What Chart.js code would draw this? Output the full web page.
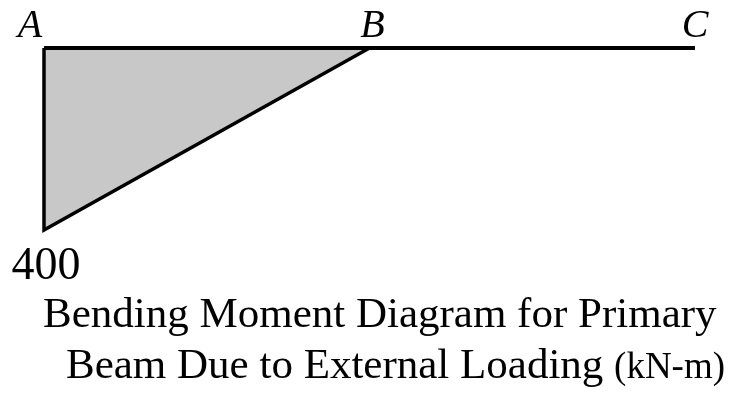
<!DOCTYPE html>
<html>
<head>
<meta charset="utf-8">
<script src="https://cdn.jsdelivr.net/npm/chart.js@4/dist/chart.umd.min.js"></script>
<style>
  html, body { margin: 0; padding: 0; background: #fff; }
  #wrap { width: 739px; height: 393px; position: relative; }
</style>
</head>
<body>
<div id="wrap"><canvas id="bmd"></canvas></div>
<script>
// beam stations (m) and their labels
const stations = [0, 5, 10];
const stationLabels = ['A', 'B', 'C'];

// bending moment diagram (kN-m), hogging drawn downwards
const momentX = [0, 0, 5];
const momentValues = [0, -400, 0];

// beam axis
const beamX = [0, 10];
const beamY = [0, 0];

const peakLabel = '400';
const captionLines = ['Bending Moment Diagram for Primary', 'Beam Due to External Loading'];
const unitLabel = '(kN-m)';

const textPlugin = {
  id: 'beamText',
  afterDraw(chart) {
    const { ctx, scales } = chart;
    const x = scales.x, y = scales.y;
    ctx.save();
    ctx.fillStyle = '#000';
    ctx.textBaseline = 'alphabetic';

    // station letters
    const nudges = [-14, 3, 0];
    ctx.font = 'italic 40px "Liberation Serif"';
    ctx.textAlign = 'center';
    stationLabels.forEach((lab, i) => {
      ctx.fillText(lab, x.getPixelForValue(stations[i]) + nudges[i], 37);
    });

    // peak value
    ctx.font = '46px "Liberation Serif"';
    ctx.fillText(peakLabel, x.getPixelForValue(momentX[1]) + 2, y.getPixelForValue(momentValues[1]) + 49);

    // caption
    ctx.textAlign = 'left';
    ctx.font = '43px "Liberation Serif"';
    ctx.fillText(captionLines[0], 43, 327);
    ctx.fillText(captionLines[1], 66, 378);
    const w = ctx.measureText(captionLines[1] + ' ').width;
    ctx.font = '37px "Liberation Serif"';
    ctx.fillText(unitLabel, 66 + w, 378);
    ctx.restore();
  }
};

new Chart(document.getElementById('bmd'), {
  type: 'line',
  data: {
    datasets: [
      {
        label: 'Moment',
        data: momentX.map((v, i) => ({ x: v, y: momentValues[i] })),
        borderColor: '#000',
        borderWidth: 3.5,
        backgroundColor: '#c8c8c8',
        fill: 'origin',
        pointRadius: 0,
        tension: 0,
        clip: false,
        order: 2
      },
      {
        label: 'Beam',
        data: beamX.map((v, i) => ({ x: v, y: beamY[i] })),
        borderColor: '#000',
        borderWidth: 4,
        fill: false,
        pointRadius: 0,
        clip: false,
        order: 1
      }
    ]
  },
  options: {
    responsive: true,
    maintainAspectRatio: false,
    animation: false,
    layout: { padding: { left: 44, right: 44, top: 48, bottom: 163 } },
    plugins: { legend: { display: false }, tooltip: { enabled: false }, title: { display: false } },
    scales: {
      x: { type: 'linear', min: 0, max: 10, display: false },
      y: { min: -400, max: 0, display: false }
    }
  },
  plugins: [textPlugin]
});
</script>
</body>
</html>
